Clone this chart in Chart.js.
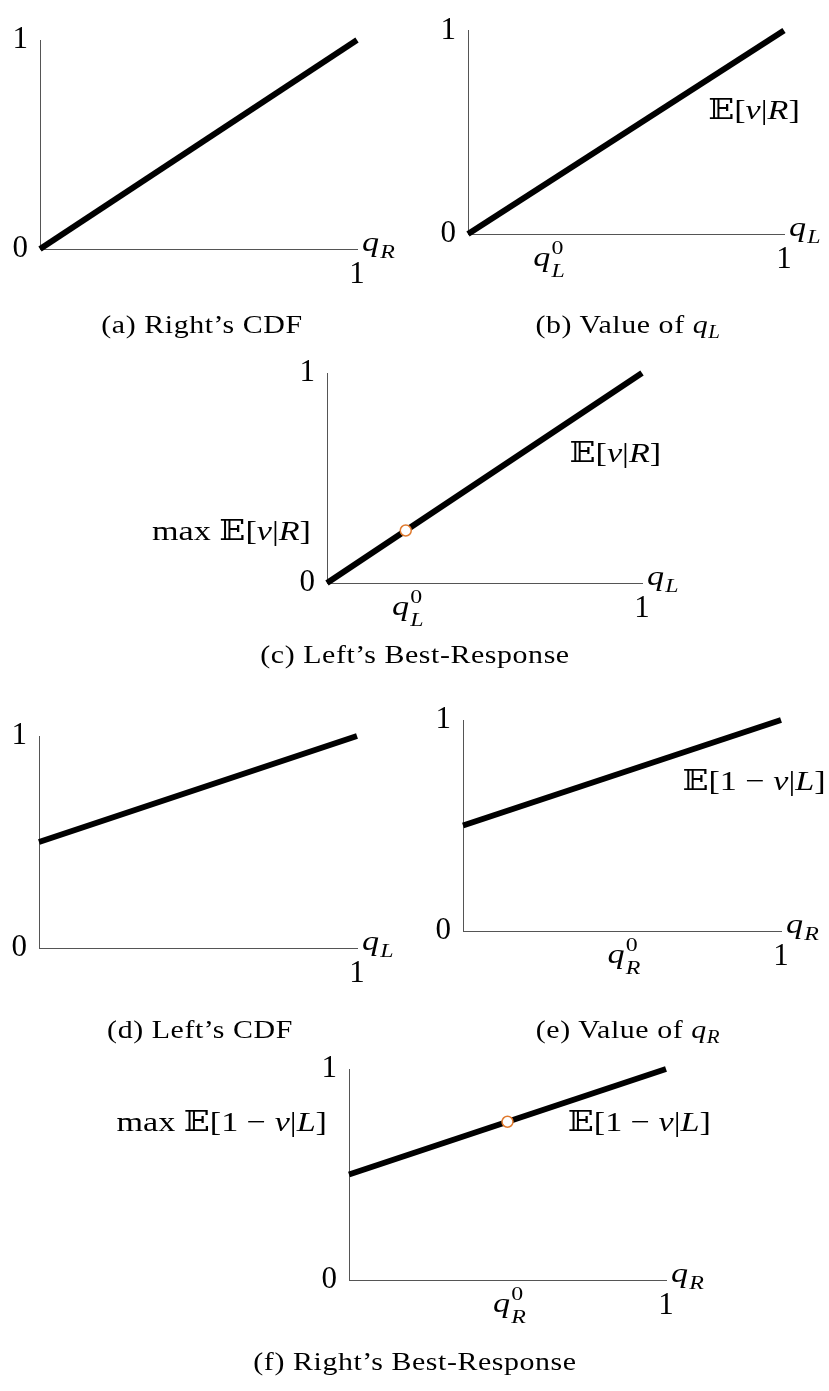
<!DOCTYPE html>
<html>
<head>
<meta charset="utf-8">
<script src="https://cdn.jsdelivr.net/npm/chart.js@4.4.1/dist/chart.umd.min.js"></script>
<style>
  html, body { margin: 0; padding: 0; background: #fff; }
  #page { position: relative; width: 829px; height: 1391px; overflow: hidden; }
  #page canvas { position: absolute; left: 0; top: 0; }
  .cap {
    position: absolute; width: 400px; text-align: center;
    font-family: "Liberation Serif", "DejaVu Serif", serif;
    font-size: 26px; line-height: 30px; letter-spacing: 0.5px; color: #000;
    transform: scaleX(1.15); transform-origin: 50% 50%;
  }
  .cap i { font-style: italic; }
  .cap sub { font-size: 70%; font-style: italic; vertical-align: -0.3em; line-height: 0; }
</style>
</head>
<body>
<div id="page"></div>
<script>
// ---- data ----
const xEnds = [0, 1];                 // both straight lines run across the unit interval
const rightCdf = [0, 1];              // (a) Right's CDF
const valueQL = [0, 1];               // (b), (c) E[v|R] against q_L
const leftCdf = [0.5, 1];             // (d) Left's CDF
const valueQR = [0.5, 1];             // (e), (f) E[1-v|L] against q_R
const qL0 = 0.25;                     // optimum for Left
const qR0 = 0.5;                      // optimum for Right
const bestLeft = [0.25];              // max E[v|R] at q_L^0
const bestRight = [0.75];             // max E[1-v|L] at q_R^0
const yTickValues = [0, 1];
const xTickValues = [1];

// ---- appearance ----
const FONT = '"Liberation Serif", "DejaVu Serif", serif';
const W = 829, H = 1391;
const AXIS_COLOR = '#555';
const LINE_W = 6;
const MARK_COLOR = '#e07a2e';
const TICK_SIZE = 31;
const MATH_SIZE = 28;
const MATH_STRETCH = 1.22;
const Y_AXIS_W = 40, X_AXIS_H = 40;

const BB_E = '\u{1D53C}';
const evR = [{t: BB_E}, {t: '['}, {t: 'v', it: true}, {t: '|'}, {t: 'R', it: true}, {t: ']'}];
const evL = [{t: BB_E}, {t: '[1 \u2212 '}, {t: 'v', it: true}, {t: '|'}, {t: 'L', it: true}, {t: ']'}];

// chart-area boxes for the six panels (left, top, right, bottom in page pixels)
const panels = [
  { box: [40, 40, 357, 249],   line: rightCdf, axis: 'R' },
  { box: [468, 24, 784, 234],  line: valueQL,  axis: 'L', q0: qL0,
    curve: { runs: evR, x: 0.76, y: 0.567 } },
  { box: [327, 373, 642, 583], line: valueQL,  axis: 'L', q0: qL0, best: bestLeft,
    curve: { runs: evR, x: 0.77, y: 0.575 },
    maxRuns: [{t: 'max '}].concat(evR), maxGap: 16 },
  { box: [39, 736, 357, 948],  line: leftCdf,  axis: 'L' },
  { box: [463, 720, 781, 931], line: valueQR,  axis: 'R', q0: qR0,
    curve: { runs: evL, x: 0.69, y: 0.668 } },
  { box: [349, 1069, 666, 1280], line: valueQR, axis: 'R', q0: qR0, best: bestRight,
    curve: { runs: evL, x: 0.69, atBest: true },
    maxRuns: [{t: 'max '}].concat(evL), maxGap: 22 }
];

const captions = [
  { cx: 202, base: 332, html: '(a) Right\u2019s CDF' },
  { cx: 628, base: 332, html: '(b) Value of <i>q</i><sub>L</sub>' },
  { cx: 415, base: 662, html: '(c) Left\u2019s Best-Response' },
  { cx: 200, base: 1037, html: '(d) Left\u2019s CDF' },
  { cx: 628, base: 1037, html: '(e) Value of <i>q</i><sub>R</sub>' },
  { cx: 415, base: 1369, html: '(f) Right\u2019s Best-Response' }
];

// ---- rich math text: italic runs, subscripts and superscripts ----
function fontFor(it, size) { return (it ? 'italic ' : '') + size + 'px ' + FONT; }

function measureRuns(ctx, runs, size) {
  const small = size * 0.7;
  return runs.map(r => {
    ctx.font = fontFor(r.it, size);
    let w = ctx.measureText(r.t).width;
    let extra = 0;
    if (r.sub || r.sup) {
      ctx.font = fontFor(true, small);
      const ws = r.sub ? ctx.measureText(r.sub).width : 0;
      ctx.font = fontFor(false, small);
      const wp = r.sup ? ctx.measureText(r.sup).width : 0;
      extra = Math.max(ws, wp) + 1;
    }
    return { w, extra };
  });
}

// draws the runs with their baseline at y; the text is widened by MATH_STRETCH
function drawRuns(ctx, runs, x, baseline, size, align) {
  const m = measureRuns(ctx, runs, size);
  const total = m.reduce((s, v) => s + v.w + v.extra, 0) * MATH_STRETCH;
  const left = align === 'right' ? x - total : align === 'center' ? x - total / 2 : x;
  const small = size * 0.7;
  ctx.save();
  ctx.translate(left, baseline);
  ctx.scale(MATH_STRETCH, 1);
  ctx.fillStyle = '#000';
  ctx.textBaseline = 'alphabetic';
  ctx.textAlign = 'left';
  let cx = 0;
  runs.forEach((r, i) => {
    ctx.font = fontFor(r.it, size);
    ctx.fillText(r.t, cx, 0);
    cx += m[i].w;
    if (r.sub || r.sup) {
      const both = r.sub && r.sup;
      if (r.sup) {
        ctx.font = fontFor(false, small);
        ctx.fillText(r.sup, cx + 1, -size * 0.42);
      }
      if (r.sub) {
        ctx.font = fontFor(true, small);
        ctx.fillText(r.sub, cx + 1, size * (both ? 0.4 : 0.24));
      }
      cx += m[i].extra;
    }
  });
  ctx.restore();
}

// ---- panel annotations drawn through each chart's own scales ----
function annotations(panel) {
  return {
    id: 'panelText',
    afterDraw(chart) {
      const ctx = chart.ctx;
      const xs = chart.scales.x, ys = chart.scales.y;
      const x0 = xs.getPixelForValue(0), x1 = xs.getPixelForValue(1);
      const y0 = ys.getPixelForValue(0);
      const capMid = MATH_SIZE * 0.33;
      // axis name at the end of the horizontal axis
      drawRuns(ctx, [{t: 'q', it: true, sub: panel.axis}], x1 + 5, y0 + 2, MATH_SIZE, 'left');
      // q^0 mark under the horizontal axis
      if (panel.q0 !== undefined) {
        drawRuns(ctx, [{t: 'q', it: true, sub: panel.axis, sup: '0'}],
          xs.getPixelForValue(panel.q0) + 2, y0 + 32, MATH_SIZE, 'center');
      }
      let bestY = null;
      if (panel.best) bestY = ys.getPixelForValue(panel.best[0]);
      if (panel.curve) {
        const c = panel.curve;
        const by = c.atBest ? bestY + capMid : ys.getPixelForValue(c.y);
        drawRuns(ctx, c.runs, xs.getPixelForValue(c.x), by, MATH_SIZE, 'left');
      }
      if (panel.maxRuns) {
        drawRuns(ctx, panel.maxRuns, x0 - panel.maxGap, bestY + capMid, MATH_SIZE, 'right');
      }
    }
  };
}

function buildChart(panel) {
  const canvas = document.createElement('canvas');
  canvas.width = W; canvas.height = H;
  canvas.style.width = W + 'px'; canvas.style.height = H + 'px';
  document.getElementById('page').appendChild(canvas);
  const [L, T, R, B] = panel.box;

  const datasets = [];
  if (panel.best) {
    datasets.push({
      data: [{x: panel.q0, y: panel.best[0]}],
      pointRadius: 5.5, pointBackgroundColor: '#fff',
      pointBorderColor: MARK_COLOR, pointBorderWidth: 1.5, showLine: false
    });
  }
  datasets.push({
    data: xEnds.map((x, i) => ({x, y: panel.line[i]})),
    showLine: true, borderColor: '#000', borderWidth: LINE_W,
    pointRadius: 0, borderCapStyle: 'butt', clip: false
  });

  const tickFont = { family: FONT, size: TICK_SIZE };
  new Chart(canvas.getContext('2d'), {
    type: 'scatter',
    data: { datasets },
    options: {
      responsive: false, animation: false, devicePixelRatio: 1,
      events: [],
      layout: { padding: { left: L - Y_AXIS_W, top: T, right: W - R, bottom: H - B - X_AXIS_H } },
      plugins: { legend: { display: false }, tooltip: { enabled: false } },
      scales: {
        x: {
          type: 'linear', min: 0, max: 1,
          afterBuildTicks: s => { s.ticks = xTickValues.map(v => ({ value: v })); },
          afterFit: s => { s.height = X_AXIS_H; },
          grid: { display: false, drawTicks: false },
          border: { display: true, color: AXIS_COLOR, width: 1 },
          ticks: { font: tickFont, color: '#000', padding: 7, maxRotation: 0, autoSkip: false,
                   callback: v => String(v) }
        },
        y: {
          type: 'linear', min: 0, max: 1,
          afterBuildTicks: s => { s.ticks = yTickValues.map(v => ({ value: v })); },
          afterFit: s => { s.width = Y_AXIS_W; },
          grid: { display: false, drawTicks: false },
          border: { display: true, color: AXIS_COLOR, width: 1 },
          ticks: { font: tickFont, color: '#000', padding: 12, autoSkip: false,
                   callback: v => String(v) }
        }
      }
    },
    plugins: [annotations(panel)]
  });
}

panels.forEach(buildChart);

captions.forEach(c => {
  const d = document.createElement('div');
  d.className = 'cap';
  d.innerHTML = c.html;
  d.style.left = (c.cx - 200) + 'px';
  d.style.top = (c.base - 22) + 'px';
  document.getElementById('page').appendChild(d);
});
</script>
</body>
</html>
